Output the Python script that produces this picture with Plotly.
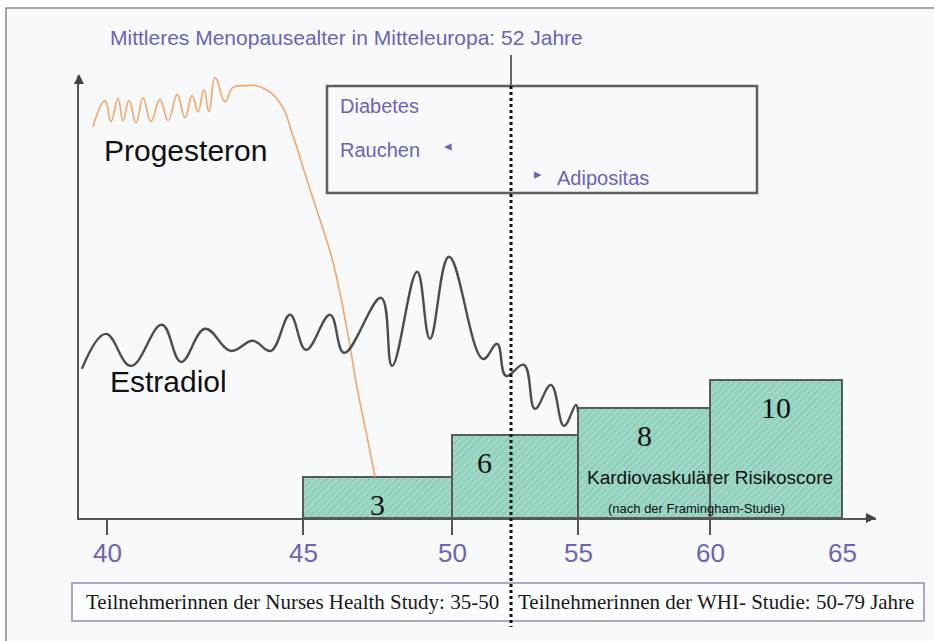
import numpy as np
import plotly.graph_objects as go

# ---------------- data ----------------
RISK_AGE_START = [45, 50, 55, 60]
RISK_AGE_END = [50, 55, 60, 65]
RISK_SCORE = [3, 6, 8, 10]

TICK_AGES = [40, 45, 50, 55, 60, 65]
TICK_MARK_AGES = [40, 45, 50, 55, 60]
MENOPAUSE_AGE = 52

PROG_AGE = [39.64, 39.95, 40.10, 40.28, 40.41, 40.56, 40.74, 40.92, 41.12, 41.35,
            41.56, 41.79, 41.99, 42.17, 42.32, 42.47, 42.60, 42.76, 43.01, 43.21,
            43.52, 43.90, 44.41, 44.75, 45.13, 45.57, 46.01, 46.48, 46.81, 47.15, 47.42]
PROG_LEVEL = [28.33, 30.22, 28.70, 30.36, 28.77, 30.22, 28.62, 30.43, 28.70, 30.29,
              28.77, 30.65, 28.99, 30.58, 29.42, 31.01, 29.42, 31.88, 30.14, 31.16,
              31.30, 31.23, 30.07, 27.61, 24.49, 21.59, 18.48, 13.62, 9.49, 5.87, 2.97]

ESTR_AGE = [39.36, 39.97, 40.61, 41.40, 41.89, 42.50, 43.16, 43.72, 44.18, 44.67,
            45.10, 45.91, 46.38, 47.62, 47.99, 48.83, 49.26, 49.90, 51.05, 51.53,
            51.83, 52.58, 53.07, 53.79, 54.37, 54.91, 55.00]
ESTR_LEVEL = [10.80, 13.33, 11.01, 13.99, 11.30, 13.70, 12.10, 12.83, 12.10, 14.71,
              12.17, 14.71, 11.96, 15.94, 11.01, 17.83, 12.97, 18.91, 11.52, 12.61,
              10.29, 11.09, 7.90, 9.64, 6.67, 8.19, 7.68]

# -------- piecewise-linear age scale (as drawn in the original) --------
SCALE_AGES = [40, 45, 50, 52, 55, 60, 65]
SCALE_POS = [107, 303, 452, 511, 578, 710, 842]


def age_to_x(a):
    a = np.atleast_1d(np.asarray(a, dtype=float))
    x = np.interp(a, SCALE_AGES, SCALE_POS)
    s_lo = (SCALE_POS[1] - SCALE_POS[0]) / (SCALE_AGES[1] - SCALE_AGES[0])
    s_hi = (SCALE_POS[-1] - SCALE_POS[-2]) / (SCALE_AGES[-1] - SCALE_AGES[-2])
    lo = a < SCALE_AGES[0]
    hi = a > SCALE_AGES[-1]
    x[lo] = SCALE_POS[0] + (a[lo] - SCALE_AGES[0]) * s_lo
    x[hi] = SCALE_POS[-1] + (a[hi] - SCALE_AGES[-1]) * s_hi
    return x


W, H = 934, 641
L, R, T, B = 79, 876, 76, 518
Y_MAX = 32


def fx(p):
    return (p - L) / (R - L)


def fy(p):
    return (B - p) / (B - T)


PURPLE = "#6b64b6"
SANS = "Liberation Sans, Arial, sans-serif"
SERIF = "Liberation Serif, Times New Roman, serif"

fig = go.Figure()

x0 = age_to_x(RISK_AGE_START)
x1 = age_to_x(RISK_AGE_END)
fig.add_trace(go.Bar(
    x=(x0 + x1) / 2, y=RISK_SCORE, width=x1 - x0,
    marker=dict(color="#9dd8c6", line=dict(color="#5a5a5a", width=2),
                pattern=dict(shape="/", fgcolor="#7bbcaa", size=5, solidity=0.3)),
    showlegend=False, hoverinfo="skip",
))

fig.add_trace(go.Scatter(
    x=age_to_x(PROG_AGE), y=PROG_LEVEL, mode="lines",
    line=dict(color="#f2a66a", width=1.6, shape="spline", smoothing=1.3),
    showlegend=False, cliponaxis=False,
))
fig.add_trace(go.Scatter(
    x=age_to_x(ESTR_AGE), y=ESTR_LEVEL, mode="lines",
    line=dict(color="#4d4d4d", width=2.4, shape="spline", smoothing=1.15),
    showlegend=False, cliponaxis=False,
))

shapes = [
    # background frame
    dict(type="rect", xref="paper", yref="paper", x0=fx(6), x1=fx(990), y0=fy(8), y1=fy(700),
         fillcolor="#f7f9fb", line=dict(color="#8c8c8c", width=1.5), layer="below"),
    # risk factor box
    dict(type="rect", xref="paper", yref="paper", x0=fx(327), x1=fx(757), y0=fy(86), y1=fy(193),
         line=dict(color="#5e5e5e", width=2.5)),
    # bottom study box
    dict(type="rect", xref="paper", yref="paper", x0=fx(72), x1=fx(924), y0=fy(583), y1=fy(621),
         fillcolor="#fbfcfd", line=dict(color="#aaa6cc", width=2)),
]
mx = float(age_to_x(MENOPAUSE_AGE)[0])
shapes.append(dict(type="line", xref="x", yref="paper", x0=mx, x1=mx, y0=fy(55), y1=fy(86),
                   line=dict(color="#666666", width=2)))
shapes.append(dict(type="line", xref="x", yref="paper", x0=mx, x1=mx, y0=fy(86), y1=fy(627),
                   line=dict(color="#111111", width=3, dash="dot")))


def label(xp, yp, text, size, color, family=SANS, xanchor="center"):
    return dict(xref="paper", yref="paper", x=fx(xp), y=fy(yp), xanchor=xanchor,
                yanchor="middle", text=text, showarrow=False,
                font=dict(family=family, size=size, color=color))


ann = [
    label(108, 37, "Mittleres Menopausealter in Mitteleuropa: 52 Jahre", 21, PURPLE, xanchor="left"),
    label(185, 150, "Progesteron", 30, "#111111"),
    label(168, 381, "Estradiol", 30, "#111111"),
    label(338, 106, "Diabetes", 20, PURPLE, xanchor="left"),
    label(338, 150, "Rauchen", 20, PURPLE, xanchor="left"),
    label(448, 145, "◂", 15, PURPLE),
    label(538, 173, "▸", 15, PURPLE),
    label(555, 178, "Adipositas", 20, PURPLE, xanchor="left"),
    label(710, 477, "Kardiovaskulärer Risikoscore", 19, "#111111"),
    label(696, 508, "(nach der Framingham-Studie)", 13, "#111111"),
    label(292, 602, "Teilnehmerinnen der Nurses Health Study: 35-50", 21, "#1a1a1a", family=SERIF),
    label(716, 602, "Teilnehmerinnen der WHI- Studie: 50-79 Jahre", 21, "#1a1a1a", family=SERIF),
]

# bar value labels (the "6" sits left of the menopause line in the original)
label_xshift = [0, -31, 0, 0]
for xc, v, dx in zip((x0 + x1) / 2, RISK_SCORE, label_xshift):
    ann.append(dict(xref="x", yref="y", x=float(xc), y=v, xanchor="center", yanchor="top",
                    xshift=dx, yshift=-9, text=str(v), showarrow=False,
                    font=dict(family=SERIF, size=30, color="#111111")))

# axis tick labels
for a, xv in zip(TICK_AGES, age_to_x(TICK_AGES)):
    ann.append(dict(xref="x", yref="paper", x=float(xv), y=fy(553), xanchor="center",
                    yanchor="middle", text=str(a), showarrow=False,
                    font=dict(family=SANS, size=26, color=PURPLE)))

# axis arrowheads
ann.append(dict(xref="paper", yref="paper", x=0, y=fy(74), ax=0, ay=12, text="", showarrow=True,
                arrowhead=2, arrowsize=1, arrowwidth=2, arrowcolor="#444444"))
ann.append(dict(xref="paper", yref="paper", x=1.0, y=0, ax=-12, ay=0, text="", showarrow=True,
                arrowhead=2, arrowsize=1, arrowwidth=2, arrowcolor="#444444"))

fig.update_layout(
    width=W, height=H,
    margin=dict(l=L, r=W - R, t=T, b=H - B, pad=0),
    paper_bgcolor="white", plot_bgcolor="rgba(0,0,0,0)",
    shapes=shapes, annotations=ann, bargap=0, showlegend=False,
    xaxis=dict(range=[L, R], showgrid=False, zeroline=False, showline=True,
               linecolor="#555555", linewidth=2, ticks="outside",
               tickvals=list(age_to_x(TICK_MARK_AGES)), ticklen=15, tickwidth=2,
               tickcolor="#555555", showticklabels=False, fixedrange=True),
    yaxis=dict(range=[0, Y_MAX], showgrid=False, zeroline=False, showline=True,
               linecolor="#555555", linewidth=2, ticks="", showticklabels=False,
               fixedrange=True),
)

fig.write_html("out.html", config={"displayModeBar": False},
               post_script="document.body.style.margin='0';document.body.style.overflow='hidden';")
